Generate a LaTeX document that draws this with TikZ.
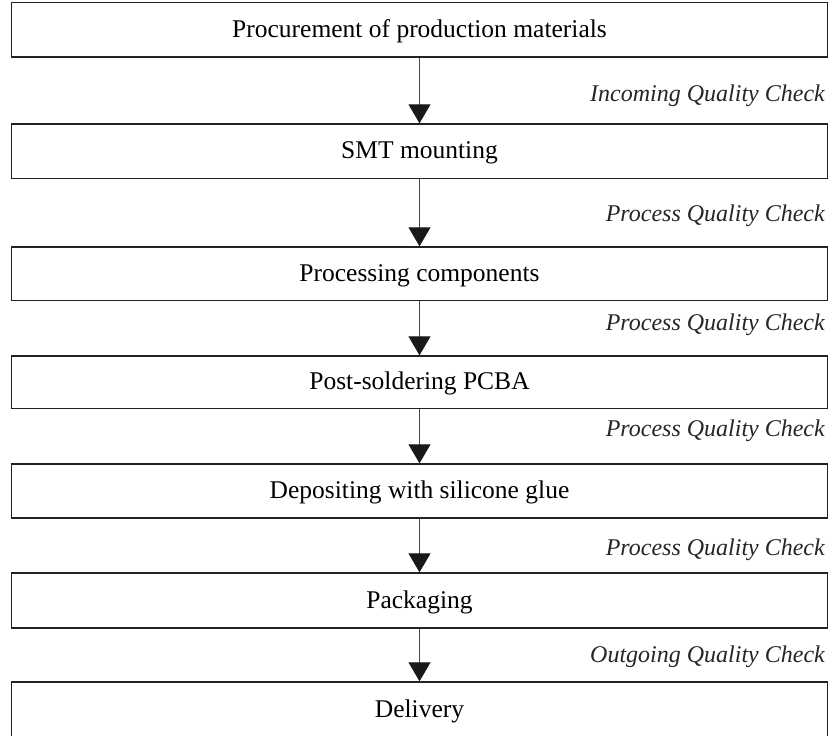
\documentclass[tikz,border=0pt]{standalone}
\usepackage{fontspec}
\setmainfont{Liberation Serif}
\usetikzlibrary{arrows.meta}

\definecolor{edge}{HTML}{222222}
\definecolor{stem}{HTML}{4A4A4A}

\tikzset{
  stage/.style={draw=edge, line width=1.4pt, fill=white,
    minimum width=816pt, inner sep=0pt,
    text height=17pt, text depth=2pt,
    font=\fontsize{25.5}{30}\selectfont},
  check/.style={anchor=base east, inner sep=0pt,
    font=\fontsize{24}{28}\selectfont\itshape, text=black!85},
  flow/.style={draw=stem, line width=1pt,
    -{Triangle[width=22pt,length=19pt,color=black!90]}}
}

\begin{document}
\begin{tikzpicture}[x=1pt,y=-1pt]
  \clip (0,0) rectangle (830,736);
  \fill[white] (0,0) rectangle (830,736);

  % process stages, top to bottom
  \node[stage, minimum height=54.3pt] (s1) at (419.5,29.85)  {Procurement of production materials};
  \node[stage, minimum height=54.5pt] (s2) at (419.5,151.25) {SMT mounting};
  \node[stage, minimum height=53.5pt] (s3) at (419.5,273.75) {Processing components};
  \node[stage, minimum height=52.5pt] (s4) at (419.5,382.25) {Post-soldering PCBA};
  \node[stage, minimum height=54pt]   (s5) at (419.5,491)    {Depositing with silicone glue};
  \node[stage, minimum height=55pt]   (s6) at (419.5,600.5)  {Packaging};
  \node[stage, minimum height=56pt]   (s7) at (419.5,710)    {Delivery};

  % flow between stages
  \draw[flow] (s1) -- (s2);
  \draw[flow] (s2) -- (s3);
  \draw[flow] (s3) -- (s4);
  \draw[flow] (s4) -- (s5);
  \draw[flow] (s5) -- (s6);
  \draw[flow] (s6) -- (s7);

  % quality checks between stages
  \node[check] (q1) at (825,101.7) {Incoming Quality Check};
  \node[check] (q2) at (825,221.7) {Process Quality Check};
  \node[check] (q3) at (825,330)   {Process Quality Check};
  \node[check] (q4) at (825,436.7) {Process Quality Check};
  \node[check] (q5) at (825,555)   {Process Quality Check};
  \node[check] (q6) at (825,662.7) {Outgoing Quality Check};
\end{tikzpicture}
\end{document}
